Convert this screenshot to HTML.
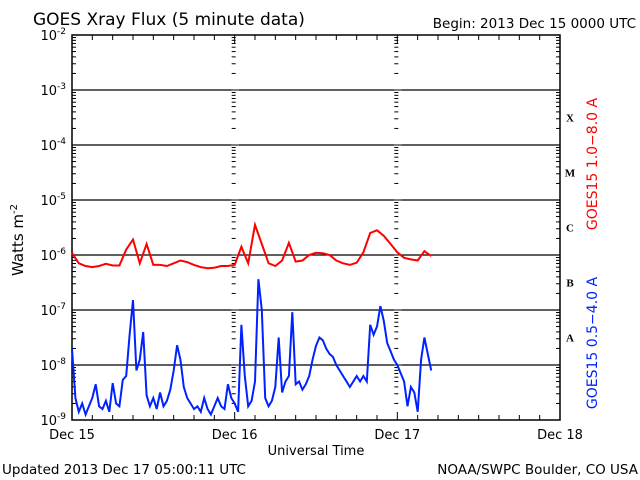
<!DOCTYPE html>
<html><head><meta charset="utf-8"><style>
body{margin:0;background:#fff;}
svg{display:block;font-family:"DejaVu Sans","Liberation Sans",sans-serif;}
</style></head><body>
<svg id="c" width="640" height="480" viewBox="0 0 640 480">
<rect width="640" height="480" fill="#fff"/>
<text x="33" y="25" font-size="17">GOES Xray Flux (5 minute data)</text>
<text x="636" y="28" font-size="13.5" text-anchor="end">Begin:  2013 Dec 15 0000 UTC</text>
<text x="2" y="474" font-size="13.5">Updated 2013 Dec 17 05:00:11 UTC</text>
<text x="638" y="474" font-size="13.5" text-anchor="end">NOAA/SWPC Boulder, CO USA</text>
<text x="316" y="455" font-size="13" text-anchor="middle">Universal Time</text>
<text transform="translate(23,240) rotate(-90)" font-size="15" text-anchor="middle">Watts m<tspan dy="-6" font-size="10">-2</tspan></text>
<text transform="translate(597,164) rotate(-90)" font-size="14" fill="#ff0000" text-anchor="middle">GOES15 1.0−8.0 A</text>
<text transform="translate(597,343) rotate(-90)" font-size="14" fill="#0022ff" text-anchor="middle">GOES15 0.5−4.0 A</text>
<g id="axes"></g>
<g id="series"></g>
</svg>
<script>
const dayLabels = ["Dec 15","Dec 16","Dec 17","Dec 18"];
const decadeExps = [-2,-3,-4,-5,-6,-7,-8,-9];
const classLetters = ["X","M","C","B","A"];
const classExps = [-3.5,-4.5,-5.5,-6.5,-7.5];
// log10 flux, hourly, starting Dec 15 00:00
const longFlux = [-5.96,-6.15,-6.2,-6.22,-6.2,-6.16,-6.19,-6.19,-5.9,-5.72,-6.15,-5.8,-6.18,-6.18,-6.2,-6.15,-6.1,-6.13,-6.18,-6.22,-6.24,-6.23,-6.2,-6.2,-6.18,-5.85,-6.15,-5.45,-5.8,-6.15,-6.2,-6.1,-5.78,-6.12,-6.1,-6.0,-5.96,-5.97,-6.0,-6.1,-6.15,-6.18,-6.14,-5.95,-5.6,-5.55,-5.65,-5.8,-5.95,-6.05,-6.08,-6.1,-5.93,-6.02];
// log10 flux, half-hourly, starting Dec 15 00:00
const shortFlux = [-7.7,-8.6,-8.85,-8.7,-8.9,-8.75,-8.6,-8.35,-8.75,-8.8,-8.65,-8.85,-8.33,-8.7,-8.75,-8.27,-8.2,-7.45,-6.82,-8.1,-7.9,-7.4,-8.55,-8.75,-8.6,-8.8,-8.5,-8.75,-8.65,-8.45,-8.1,-7.64,-7.9,-8.4,-8.6,-8.7,-8.8,-8.75,-8.85,-8.6,-8.8,-8.9,-8.75,-8.6,-8.75,-8.8,-8.35,-8.6,-8.7,-8.85,-7.27,-8.2,-8.75,-8.65,-8.3,-6.44,-7.0,-8.6,-8.75,-8.65,-8.4,-7.5,-8.5,-8.3,-8.2,-7.04,-8.35,-8.3,-8.45,-8.35,-8.2,-7.9,-7.65,-7.5,-7.55,-7.7,-7.8,-7.85,-8.0,-8.1,-8.2,-8.3,-8.4,-8.3,-8.2,-8.3,-8.2,-8.3,-7.27,-7.45,-7.3,-6.93,-7.2,-7.6,-7.75,-7.9,-8.0,-8.15,-8.3,-8.75,-8.4,-8.5,-8.85,-7.9,-7.5,-7.8,-8.1];

const X0=72, X1=560, Y0=35, DEC=55;
const xScale = h => X0 + h*(X1-X0)/72;
const yScale = lg => Y0 + (-2-lg)*DEC;
const NS="http://www.w3.org/2000/svg";
const axes=document.getElementById('axes'), series=document.getElementById('series');
function mk(tag,attrs,parent){const e=document.createElementNS(NS,tag);for(const k in attrs)e.setAttribute(k,attrs[k]);parent.appendChild(e);return e;}
function line(x1,y1,x2,y2,p,w){return mk('line',{x1:x1,y1:y1,x2:x2,y2:y2,stroke:'#000','stroke-width':w||1},p);}

decadeExps.slice(1,-1).forEach(e=>{
  const l=line(X0,yScale(e),X1,yScale(e),axes,1.3);
  
  
});
[1,2].forEach(d=>{
  const x=xScale(d*24);
  const r=mk('rect',{x:x-3,y:Y0+1,width:7,height:383},axes);
  r.setAttribute('fill','#fff');
  
  
});
for(let e=-9;e<-2;e++){
  for(let m=1;m<=9;m++){
    const y=yScale(e+Math.log10(m));
    const len=m===1?7:4;
    line(X0,y,X0+len,y,axes);
    line(X1-len,y,X1,y,axes);
    [1,2].forEach(d=>{const x=xScale(d*24);line(x-3,y,x-3+len,y,axes);});
  }
}
for(let h=0;h<=72;h+=3){
  const x=xScale(h), len=h%24===0?8:5;
  line(x,Y0,x,Y0+len,axes);
  line(x,Y0+385-len,x,Y0+385,axes);
}
const fr=mk('rect',{x:X0,y:Y0,width:X1-X0,height:385,fill:'none',stroke:'#000','stroke-width':1.5},axes);


decadeExps.forEach(e=>{
  const t=mk('text',{x:66,y:yScale(e)+5,'font-size':13,'text-anchor':'end'},axes);
  
  
  t.textContent='10';
  const s=mk('tspan',{dy:-6,'font-size':9},t); s.textContent=String(e);
});
dayLabels.forEach((l,i)=>{
  const t=mk('text',{x:xScale(i*24),y:439,'font-size':13,'text-anchor':'middle'},axes);
  
  
  t.textContent=l;
});
classLetters.forEach((c,i)=>{
  const t=mk('text',{x:570,y:yScale(classExps[i])+4,'font-size':11,'font-weight':'bold','font-family':'Liberation Serif, serif','text-anchor':'middle'},axes);
  
  
  t.textContent=c;
});
function path(arr,step,color,name){
  const d=arr.map((v,i)=>(i?'L':'M')+xScale(i*step).toFixed(1)+','+yScale(v).toFixed(1)).join('');
  const p=mk('path',{d:d,fill:'none',stroke:color,'stroke-width':2,'stroke-linejoin':'miter'},series);
  
  
}
path(longFlux,1,'#ff0000','long-channel-line');
path(shortFlux,0.5,'#0022ff','short-channel-line');
</script>
</body></html>
